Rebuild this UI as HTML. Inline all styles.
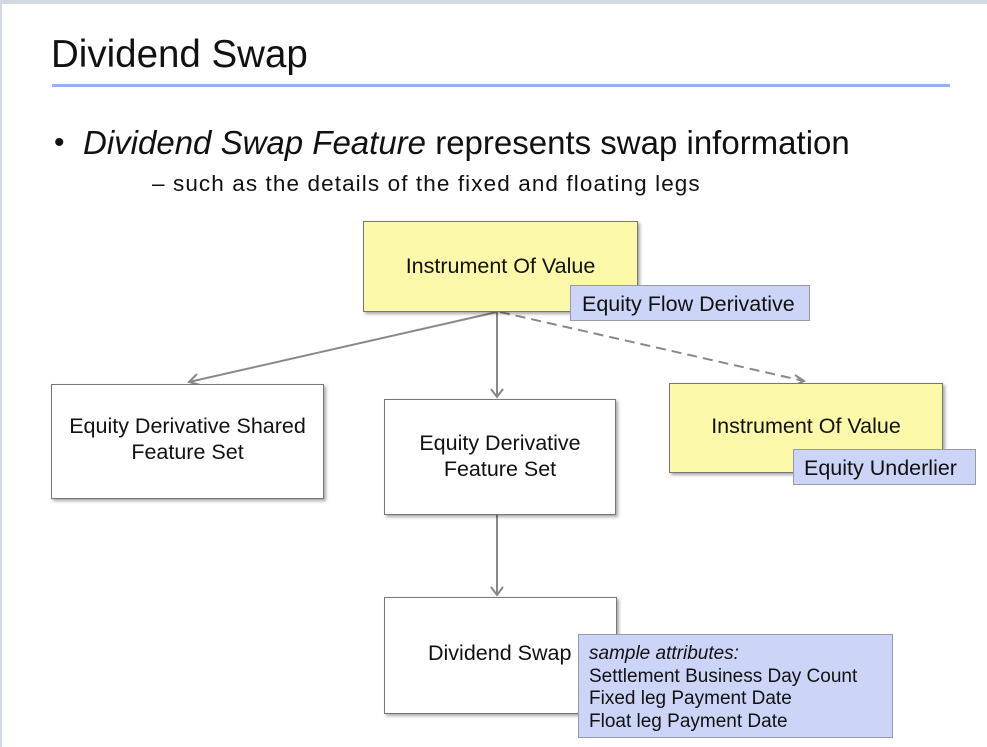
<!DOCTYPE html>
<html><head><style>
body{margin:0;width:987px;height:747px;background:#fff;position:relative;overflow:hidden;font-family:"Liberation Sans",sans-serif;color:#111}
.a{position:absolute;white-space:nowrap}
.box{position:absolute;border:1.5px solid #777;box-shadow:2px 2px 3px rgba(0,0,0,.35);display:flex;align-items:center;justify-content:center;text-align:center;font-size:21.5px;line-height:26px;box-sizing:border-box;white-space:nowrap}
.lab{position:absolute;background:#ccd5f8;border:1px solid #99a;box-sizing:border-box;font-size:21.5px;white-space:nowrap}
</style></head><body>
<div class="a" style="left:0;top:0;width:987px;height:4px;background:#d3d9e2"></div>
<div class="a" style="left:0;top:0;width:2px;height:747px;background:#d3d9e2"></div>
<div class="a" style="left:51px;top:33px;font-size:38.5px;line-height:44px">Dividend Swap</div>
<div class="a" style="left:52px;top:84px;width:898px;height:3px;background:#8fb2f8"></div>
<div class="a" style="left:54px;top:125px;font-size:30px;line-height:36px">•</div>
<div class="a" style="left:83px;top:125px;font-size:33px;line-height:36px"><i>Dividend Swap Feature</i> represents swap information</div>
<div class="a" style="left:152px;top:171px;font-size:22.5px;line-height:26px;letter-spacing:1.1px">– such as the details of the fixed and floating legs</div>
<svg class="a" style="left:0;top:0" width="987" height="747">
<g stroke="#888" stroke-width="2" fill="none">
<line x1="497" y1="312" x2="189" y2="382"/><polyline points="197,374 189,382 200,385"/>
<line x1="497" y1="312" x2="497" y2="397"/><polyline points="491,389 497,397 503,389"/>
<line x1="500" y1="312" x2="804" y2="381" stroke-dasharray="10,6"/><polyline points="795,375 804,381 795,385"/>
<line x1="497" y1="515" x2="497" y2="595"/><polyline points="491,587 497,595 503,587"/>
</g></svg>
<div class="box" style="left:363px;top:221px;width:275px;height:91px;background:#fcf8a9;padding-bottom:2px">Instrument Of Value</div>
<div class="lab" style="left:570px;top:285px;width:240px;height:36px;line-height:36px;padding-left:11px">Equity Flow Derivative</div>
<div class="box" style="left:51px;top:384px;width:273px;height:115px;background:#fff;padding-bottom:6px">Equity Derivative Shared<br>Feature Set</div>
<div class="box" style="left:384px;top:399px;width:232px;height:116px;background:#fff;padding-bottom:2px">Equity Derivative<br>Feature Set</div>
<div class="box" style="left:669px;top:383px;width:274px;height:90px;background:#fcf8a9;padding-bottom:4px">Instrument Of Value</div>
<div class="lab" style="left:793px;top:449px;width:183px;height:36px;line-height:36px;padding-left:10px">Equity Underlier</div>
<div class="box" style="left:384px;top:597px;width:233px;height:117px;background:#fff;justify-content:flex-start;padding-left:43px;padding-bottom:6px">Dividend Swap</div>
<div class="lab" style="left:578px;top:634px;width:315px;height:104px;padding:8px 0 0 10px;font-size:19px;line-height:22.5px"><i>sample attributes:</i><br>Settlement Business Day Count<br>Fixed leg Payment Date<br>Float leg Payment Date</div>
</body></html>
